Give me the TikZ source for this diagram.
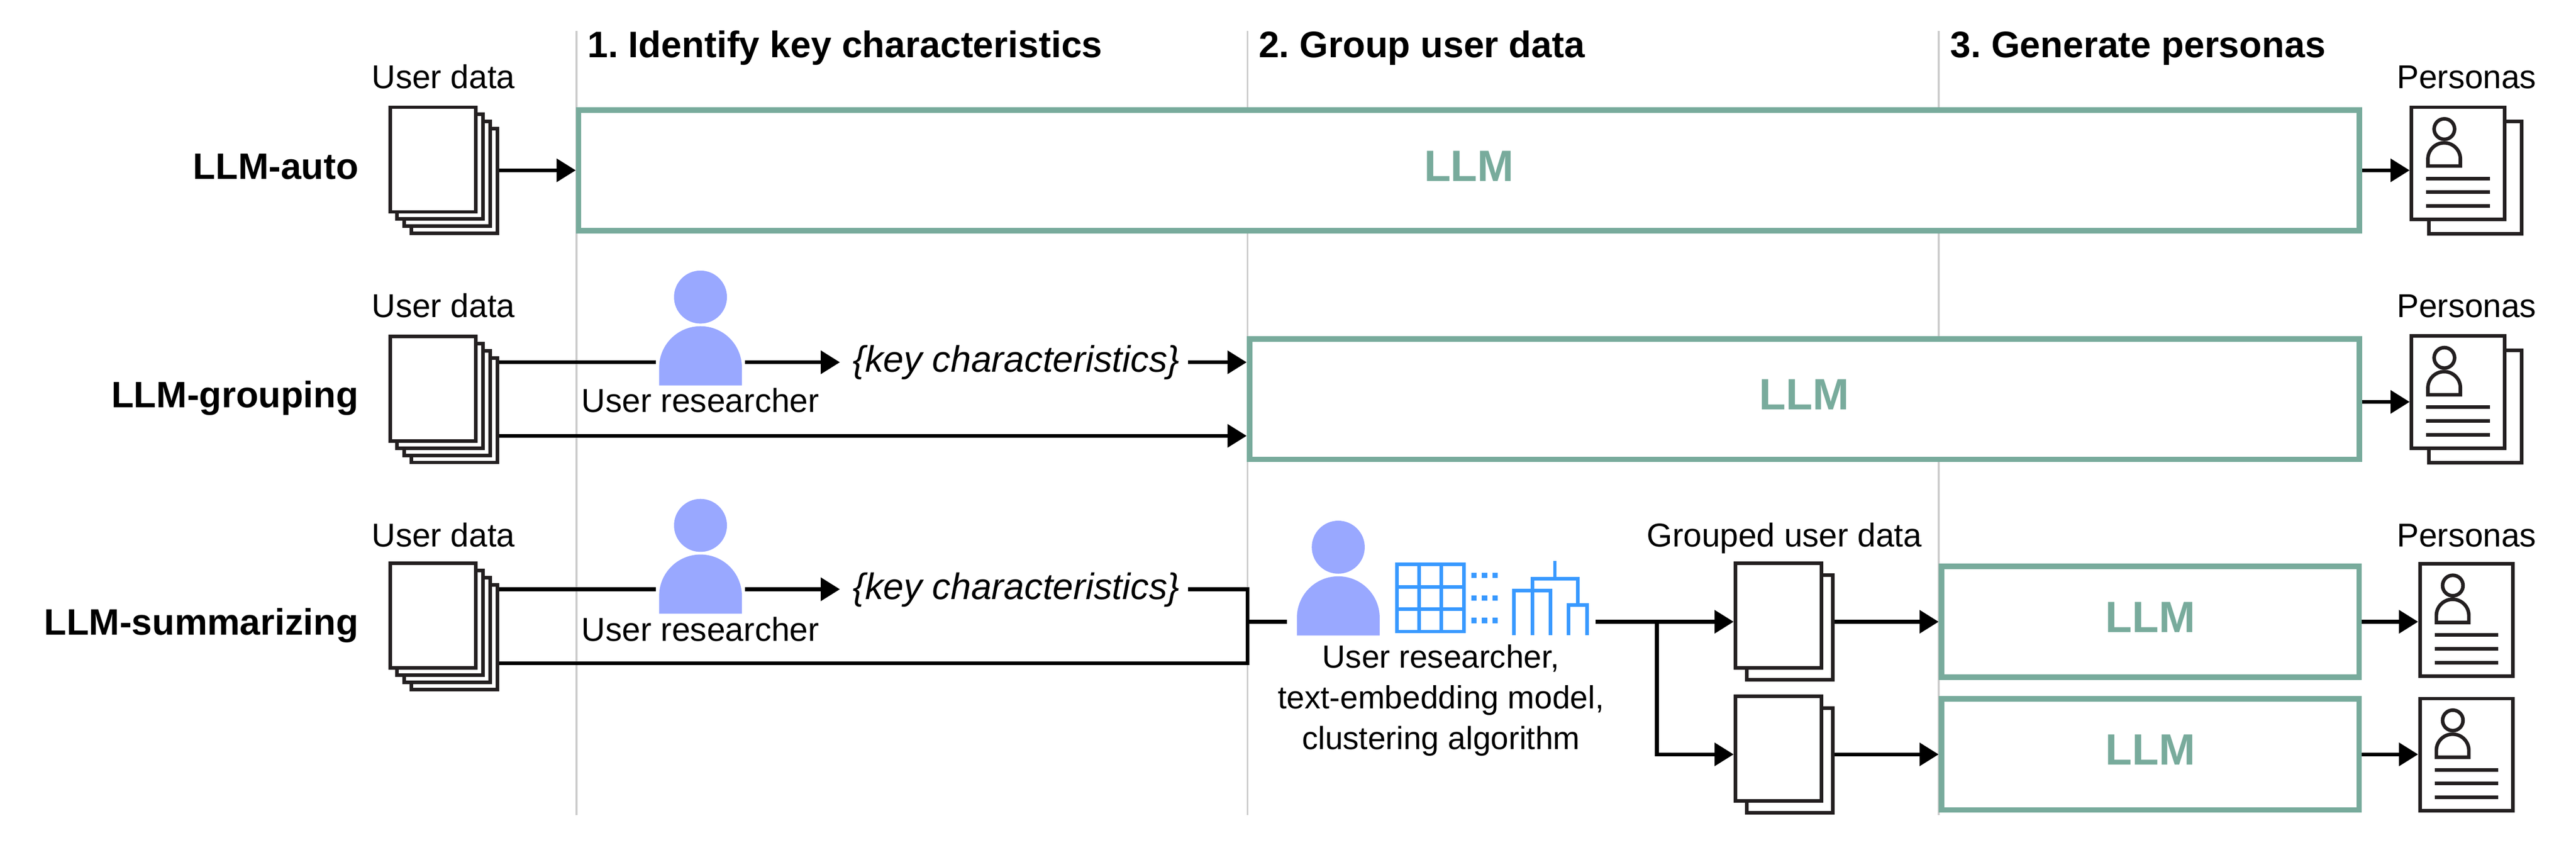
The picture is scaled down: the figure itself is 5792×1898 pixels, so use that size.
\documentclass[tikz,border=0pt]{standalone}
\usepackage{fontspec}
\setmainfont{Liberation Sans}
\usetikzlibrary{arrows.meta}
\definecolor{teal}{HTML}{78AB9C}
\definecolor{ink}{HTML}{231F20}
\definecolor{gridgray}{HTML}{CCCCCC}
\definecolor{personblue}{HTML}{99A8FF}
\definecolor{iconblue}{HTML}{3899FF}
\frenchspacing
\tikzset{
  x=0.01cm, y=-0.01cm,
  txt/.style={inner sep=0pt, outer sep=0pt, anchor=base, font=\fontsize{21.1}{25}\selectfont},
  txts/.style={txt, font=\fontsize{21.2}{25}\selectfont},
  rowlabel/.style={inner sep=0pt, outer sep=0pt, anchor=base east, font=\fontsize{23.5}{28}\selectfont\bfseries},
  header/.style={inner sep=0pt, outer sep=0pt, anchor=base west, font=\fontsize{23.6}{28}\selectfont\bfseries},
  keytxt/.style={inner sep=0pt, outer xsep=0.29cm, outer ysep=0pt, anchor=base, font=\fontsize{23.5}{28}\selectfont\itshape},
  sheet/.style={draw=ink, fill=white, line width=0.08cm, inner sep=0pt, anchor=north west, minimum width=1.93cm, minimum height=2.35cm},
  cardsheet/.style={draw=ink, fill=white, line width=0.08cm, inner sep=0pt, anchor=north west, minimum width=2.09cm, minimum height=2.52cm},
  llmbox/.style={draw=teal, fill=white, line width=0.125cm, inner sep=0pt},
  llmtxt/.style={inner sep=0pt, outer sep=0pt, anchor=base, text=teal, font=\fontsize{28}{32}\selectfont\bfseries},
  divider/.style={draw=gridgray, line width=0.04cm},
  wire/.style={draw=black, line width=0.085cm, line cap=butt, miter limit=10},
  arr/.style={wire, -{Triangle[length=0.43cm, width=0.51cm]}},
  ink8/.style={draw=ink, line width=0.08cm},
  icon/.style={draw=iconblue, line width=0.08cm},
  person/.style={inner sep=0pt, outer ysep=0pt, outer xsep=0.065cm, minimum width=1.87cm, minimum height=1.33cm},
}
% name, left, top of a stack of four sheets
\newcommand{\fourstack}[3]{%
  \node[sheet] (#1d) at (#2+48,#3+48) {};
  \node[sheet] (#1c) at (#2+32,#3+32) {};
  \node[sheet] (#1b) at (#2+16,#3+16) {};
  \node[sheet] (#1a) at (#2,#3) {};
}
% name, left, top of a stack of two sheets
\newcommand{\twostack}[3]{%
  \node[sheet] (#1b) at (#2+26,#3+26) {};
  \node[sheet] (#1a) at (#2,#3) {};
}
% name, centre x, top of the head of a filled person
\newcommand{\filledperson}[3]{%
  \node[circle, fill=personblue, inner sep=0pt, outer sep=0pt, minimum size=1.19cm] (#1head) at (#2,#3+59.5) {};
  \fill[personblue] (#2-93,#3+258) -- (#2-93,#3+218) arc[start angle=180, end angle=0, radius=0.93cm] -- (#2+93,#3+258) -- cycle;
  \node[person] (#1) at (#2,#3+191.5) {};
}
% name, left, top of a persona card
\newcommand{\personacard}[3]{%
  \node[cardsheet] (#1) at (#2,#3) {};
  \node[circle, ink8, inner sep=0pt, minimum size=0.46cm] (#1head) at (#2+78,#3+53) {};
  \draw[ink8] (#2+41,#3+136) -- (#2+41,#3+120.5) arc[start angle=180, end angle=0, radius=0.365cm] -- (#2+114,#3+136) -- cycle;
  \draw[ink8] (#2+37,#3+164) -- (#2+180,#3+164);
  \draw[ink8] (#2+37,#3+195) -- (#2+180,#3+195);
  \draw[ink8] (#2+37,#3+226) -- (#2+180,#3+226);
}
\begin{document}
\begin{tikzpicture}
\useasboundingbox (0,0) rectangle (5792,1898);
\fill[white] (0,0) rectangle (5792,1898);

% dividers
\coordinate (d1t) at (1296,70);  \coordinate (d1b) at (1296,1831);
\coordinate (d2t) at (2805,70);  \coordinate (d2b) at (2805,1831);
\coordinate (d3t) at (4359,70);  \coordinate (d3b) at (4359,1831);
\draw[divider] (d1t) -- (d1b);
\draw[divider] (d2t) -- (d2b);
\draw[divider] (d3t) -- (d3b);

% headers
\node[header] (h1) at (1321,129) {1. Identify key characteristics};
\node[header] (h2) at (2830,129) {2. Group user data};
\node[header] (h3) at (4385,129) {3. Generate personas};

% row labels
\node[rowlabel] (l1) at (806,402) {LLM-auto};
\node[rowlabel] (l2) at (806,916) {LLM-grouping};
\node[rowlabel] (l3) at (806,1427) {LLM-summarizing};

% user data
\node[txt] (u1) at (997,199) {User data};
\node[txt] (u2) at (997,713) {User data};
\node[txt] (u3) at (997,1228) {User data};
\fourstack{sa}{873}{237}
\fourstack{sb}{873}{752}
\fourstack{sc}{873}{1262}

% LLM boxes
\node[llmbox, minimum width=40.02cm, minimum height=2.705cm] (llma) at (3303,382.7) {};
\node[llmbox, minimum width=24.94cm, minimum height=2.705cm] (llmb) at (4057,896.7) {};
\node[llmbox, minimum width=9.385cm, minimum height=2.495cm] (llmc) at (4834.7,1397) {};
\node[llmbox, minimum width=9.385cm, minimum height=2.495cm] (llmd) at (4834.7,1695) {};
\node[llmtxt] (ta) at ([yshift=-0.24cm]llma.center) {LLM};
\node[llmtxt] (tb) at ([yshift=-0.24cm]llmb.center) {LLM};
\node[llmtxt] (tc) at ([yshift=-0.24cm]llmc.center) {LLM};
\node[llmtxt] (td) at ([yshift=-0.24cm]llmd.center) {LLM};

% personas
\node[txt] (pa) at (5546,199) {Personas};
\node[txt] (pb) at (5546,713) {Personas};
\node[txt] (pc) at (5546,1229) {Personas};
\node[cardsheet] (cab) at (5457,269) {};
\personacard{ca}{5418}{237}
\node[cardsheet] (cbb) at (5457,783) {};
\personacard{cb}{5418}{751}
\personacard{cc}{5437}{1262.6}
\personacard{cd}{5437}{1565.6}

% row 2 researcher
\filledperson{rb}{1575}{608}
\node[txts] (rbt) at (1575,926) {User researcher};
\node[keytxt] (kb) at (2285,836) {\{key characteristics\}};
% row 3 researcher
\filledperson{rc}{1575}{1121}
\node[txts] (rct) at (1575,1440) {User researcher};
\node[keytxt] (kc) at (2285,1347) {\{key characteristics\}};

% group step
\filledperson{rg}{3009}{1170}
\node[txts, anchor=north, align=center, font=\fontsize{20.5}{25.9}\selectfont] (gt) at (3240,1449) {User researcher,\\text-embedding model,\\clustering algorithm};
\draw[icon] (3140.5,1268) rectangle (3292,1419);
\draw[icon] (3191,1268) -- (3191,1419);
\draw[icon] (3241,1268) -- (3241,1419);
\draw[icon] (3140.5,1319) -- (3292,1319);
\draw[icon] (3140.5,1369) -- (3292,1369);
\foreach \dy in {1293,1344,1394}{
  \foreach \dx in {3314,3338,3362}{
    \fill[iconblue] (\dx-6,\dy-6) rectangle (\dx+6,\dy+6);
  }
}
\draw[icon] (3404.4,1427) -- (3404.4,1327) -- (3486.3,1327) -- (3486.3,1427);
\draw[icon] (3527,1427) -- (3527,1359) -- (3568,1359) -- (3568,1427);
\draw[icon] (3445.3,1427) -- (3445.3,1300) -- (3547.5,1300) -- (3547.5,1359);
\draw[icon] (3496,1260) -- (3496,1300);

% grouped data
\node[txt] (gl) at (4012,1229) {Grouped user data};
\twostack{ga}{3898}{1262}
\twostack{gb}{3898}{1560.6}

% connectors row 1
\draw[arr] (sad.east |- llma.west) -- (llma.west);
\draw[arr] (llma.east) -- (ca.west |- llma.east);

% connectors row 2
\coordinate (rbline) at (1121,814);
\coordinate (rblow) at (1121,979.3);
\coordinate (rbout) at (5310,903);
\draw[wire] (sbd.east |- rbline) -- (rb.west |- rbline);
\draw[arr] (rb.east |- rbline) -- (kb.west |- rbline);
\draw[arr] ([xshift=-0.1cm]kb.east |- rbline) -- (llmb.west |- rbline);
\draw[arr] (sbd.east |- rblow) -- (llmb.west |- rblow);
\draw[arr] (llmb.east |- rbout) -- (cb.west |- rbout);

% connectors row 3
\coordinate (rcline) at (1121,1324);
\coordinate (rclow) at (1121,1490);
\coordinate (jt) at (2805,1324);
\coordinate (jb) at (2805,1490);
\coordinate (jm) at (2805,1397);
\coordinate (gin) at (2894,1397);
\coordinate (gout) at (3588,1397);
\coordinate (fork) at (3725.5,1397);
\coordinate (forkb) at (3725.5,1695);
\draw[wire] (scd.east |- rcline) -- (rc.west |- rcline);
\draw[arr] (rc.east |- rcline) -- (kc.west |- rcline);
\draw[wire] ([xshift=-0.1cm]kc.east |- rcline) -- (jt) -- (jb) -- (scd.east |- rclow);
\draw[wire] (jm) -- (gin);
\draw[arr] (gout) -- (gaa.west |- gout);
\draw[arr] (fork) -- (forkb) -- (gba.west |- llmd.west);
\draw[arr] (gab.east |- llmc.west) -- (llmc.west);
\draw[arr] (gbb.east |- llmd.west) -- (llmd.west);
\draw[arr] (llmc.east) -- (cc.west |- llmc.east);
\draw[arr] (llmd.east) -- (cd.west |- llmd.east);
\end{tikzpicture}
\end{document}
